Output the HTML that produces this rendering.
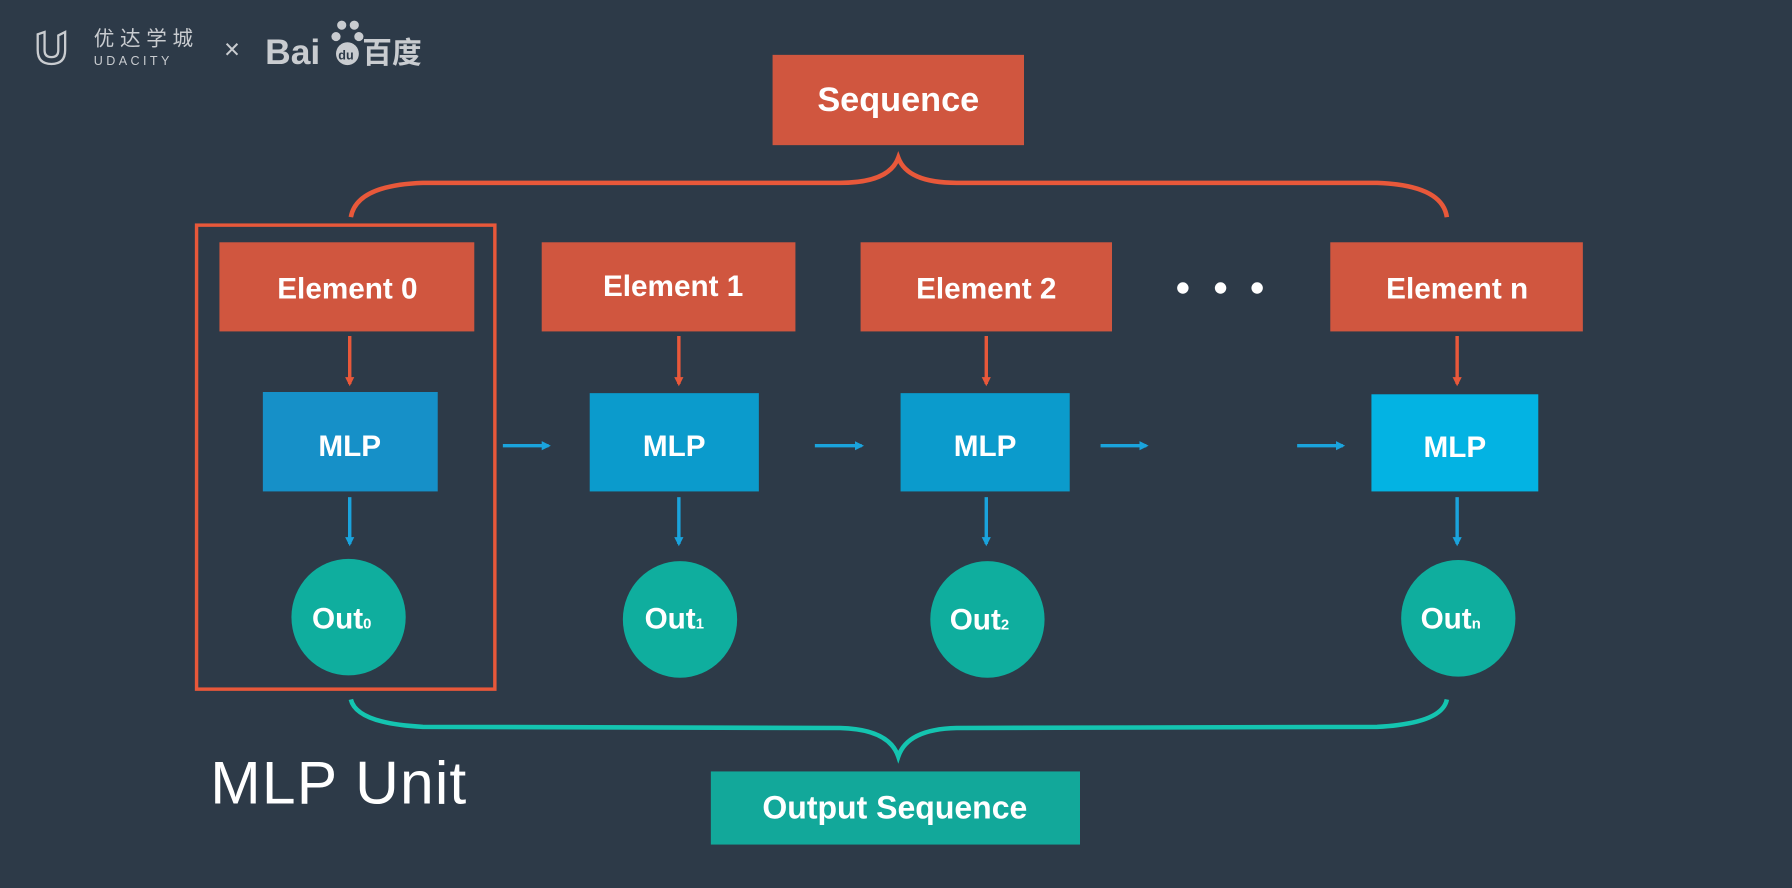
<!DOCTYPE html>
<html><head><meta charset="utf-8"><style>
html,body{margin:0;padding:0;background:#2d3a48;}
svg{display:block;}
text{font-family:"Liberation Sans","Noto Sans CJK SC",sans-serif;fill:#fff;}
</style></head><body>
<svg width="1792" height="888" viewBox="0 0 1568 777" preserveAspectRatio="none" xmlns="http://www.w3.org/2000/svg">
<rect width="1568" height="777" fill="#2d3a48"/>
<defs>
<marker id="ao" markerWidth="8" markerHeight="8" refX="6" refY="4" orient="auto" markerUnits="userSpaceOnUse"><path d="M0,0 L8,4 L0,8 Z" fill="#e8583a"/></marker>
<marker id="ab" markerWidth="8" markerHeight="8" refX="6" refY="4" orient="auto" markerUnits="userSpaceOnUse"><path d="M0,0 L8,4 L0,8 Z" fill="#1aa3dc"/></marker>
</defs>
<!-- logo -->
<path d="M33,30 v14 q0,12 12,12 q12,0 12,-12 v-16 l-6,3 v13 q0,6 -6,6 q-6,0 -6,-6 v-16 z" fill="none" stroke="#c9ccd0" stroke-width="2"/>
<text x="82" y="40" font-size="18" style="fill:#c9ccd0;letter-spacing:5px">优达学城</text>
<text x="82" y="57" font-size="11" style="fill:#c9ccd0;letter-spacing:3px">UDACITY</text>
<text x="196" y="51" font-size="24" style="fill:#c9ccd0">×</text>
<text x="232" y="56" font-size="31" font-weight="bold" style="fill:#c9ccd0">Bai</text>
<circle cx="304" cy="47" r="10" fill="#c9ccd0"/><circle cx="294" cy="32" r="4" fill="#c9ccd0"/><circle cx="314" cy="32" r="4" fill="#c9ccd0"/><circle cx="299" cy="22" r="4" fill="#c9ccd0"/><circle cx="310" cy="22" r="4" fill="#c9ccd0"/>
<text x="296" y="52" font-size="11" font-weight="bold" style="fill:#2d3a48">du</text>
<text x="317" y="55" font-size="26" font-weight="bold" style="fill:#c9ccd0">百度</text>
<!-- sequence -->
<rect x="676" y="48" width="220" height="79" fill="#d0563f"/>
<text x="786" y="97" font-size="30" font-weight="bold" text-anchor="middle">Sequence</text>
<path d="M307,190 Q312,162 370,160 L735,160 Q778,160 786,138 Q794,160 837,160 L1205,160 Q1262,162 1266,190" fill="none" stroke="#e8583a" stroke-width="4"/>
<!-- MLP unit box -->
<rect x="172" y="197" width="261" height="406" fill="none" stroke="#e8583a" stroke-width="3"/>
<!-- elements -->
<g fill="#d0563f">
<rect x="192" y="212" width="223" height="78"/><rect x="474" y="212" width="222" height="78"/><rect x="753" y="212" width="220" height="78"/><rect x="1164" y="212" width="221" height="78"/>
</g>
<g font-size="26" font-weight="bold" text-anchor="middle">
<text x="304" y="261">Element 0</text><text x="589" y="259">Element 1</text><text x="863" y="261">Element 2</text><text x="1275" y="261">Element n</text>
</g>
<g fill="#fff"><circle cx="1035" cy="252" r="5"/><circle cx="1068" cy="252" r="5"/><circle cx="1100" cy="252" r="5"/></g>
<g stroke="#e8583a" stroke-width="3" marker-end="url(#ao)">
<line x1="306" y1="294" x2="306" y2="336"/><line x1="594" y1="294" x2="594" y2="336"/><line x1="863" y1="294" x2="863" y2="336"/><line x1="1275" y1="294" x2="1275" y2="336"/>
</g>
<!-- MLPs -->
<rect x="230" y="343" width="153" height="87" fill="#1690c8"/>
<rect x="516" y="344" width="148" height="86" fill="#0b9bcc"/>
<rect x="788" y="344" width="148" height="86" fill="#0b9bcc"/>
<rect x="1200" y="345" width="146" height="85" fill="#03b3e3"/>
<g font-size="26" font-weight="bold" text-anchor="middle">
<text x="306" y="399">MLP</text><text x="590" y="399">MLP</text><text x="862" y="399">MLP</text><text x="1273" y="400">MLP</text>
</g>
<g stroke="#1aa3dc" stroke-width="3" marker-end="url(#ab)">
<line x1="440" y1="390" x2="480" y2="390"/><line x1="713" y1="390" x2="754" y2="390"/><line x1="963" y1="390" x2="1003" y2="390"/><line x1="1135" y1="390" x2="1175" y2="390"/>
<line x1="306" y1="435" x2="306" y2="476"/><line x1="594" y1="435" x2="594" y2="476"/><line x1="863" y1="435" x2="863" y2="476"/><line x1="1275" y1="435" x2="1275" y2="476"/>
</g>
<!-- outs -->
<g fill="#0fae9e">
<ellipse cx="305" cy="540" rx="50" ry="51"/><ellipse cx="595" cy="542" rx="50" ry="51"/><ellipse cx="864" cy="542" rx="50" ry="51"/><ellipse cx="1276" cy="541" rx="50" ry="51"/>
</g>
<g font-size="26" font-weight="bold">
<text x="273" y="550">Out<tspan font-size="13">0</tspan></text>
<text x="564" y="550">Out<tspan font-size="13">1</tspan></text>
<text x="831" y="551">Out<tspan font-size="13">2</tspan></text>
<text x="1243" y="550">Out<tspan font-size="13">n</tspan></text>
</g>
<!-- bottom brace -->
<path d="M307,612 Q312,633 370,636 L735,637 Q778,638 786,662 Q794,638 837,637 L1205,636 Q1262,633 1266,612" fill="none" stroke="#14c4b0" stroke-width="4"/>
<rect x="622" y="675" width="323" height="64" fill="#12a89a"/>
<text x="783" y="716" font-size="28" font-weight="bold" text-anchor="middle">Output Sequence</text>
<text x="184" y="703" font-size="53" style="letter-spacing:1px">MLP Unit</text>
</svg>
</body></html>
